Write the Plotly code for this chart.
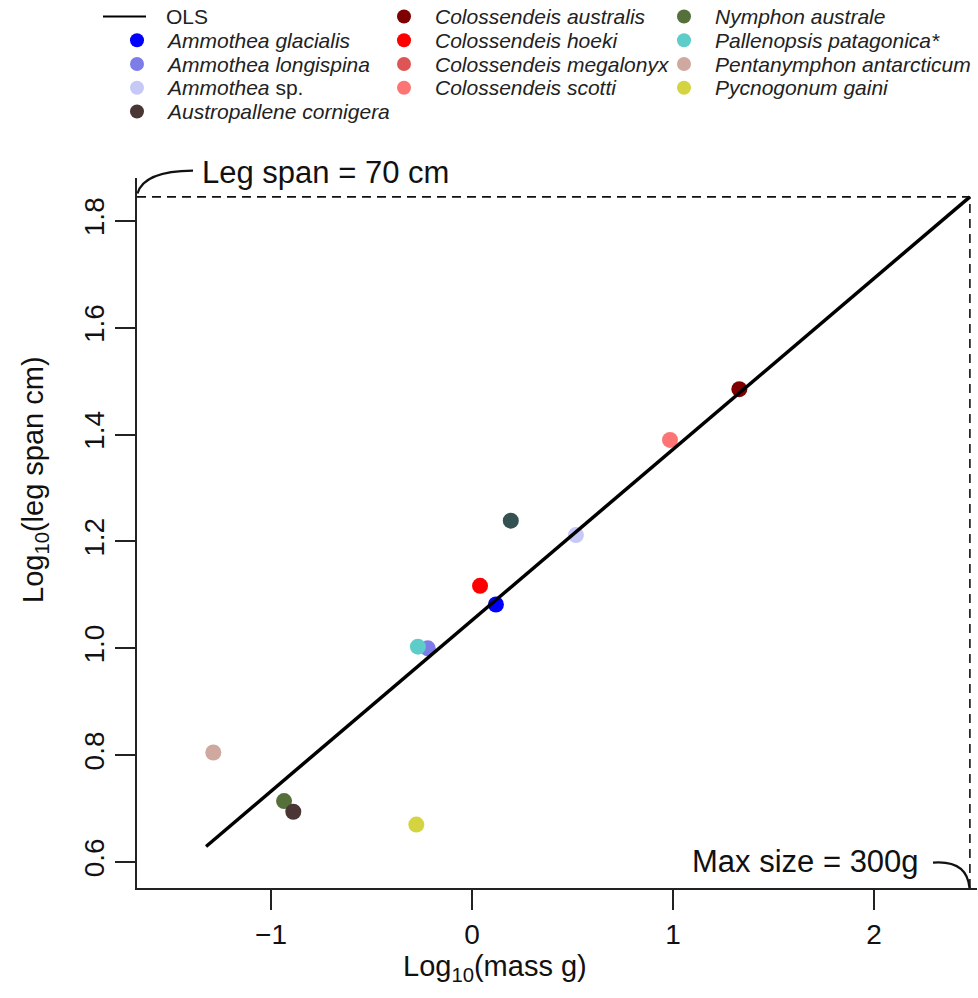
import math
import plotly.graph_objects as go

# ---------------- data ----------------
species = [
    "Ammothea glacialis", "Ammothea longispina", "Ammothea sp.", "Austropallene cornigera",
    "Colossendeis australis", "Colossendeis hoeki", "Colossendeis megalonyx", "Colossendeis scotti",
    "Nymphon australe", "Pallenopsis patagonica*", "Pentanymphon antarcticum", "Pycnogonum gaini",
]
legend_labels = [
    "<i>Ammothea glacialis</i>", "<i>Ammothea longispina</i>", "<i>Ammothea</i> sp.",
    "<i>Austropallene cornigera</i>", "<i>Colossendeis australis</i>", "<i>Colossendeis hoeki</i>",
    "<i>Colossendeis megalonyx</i>", "<i>Colossendeis scotti</i>", "<i>Nymphon australe</i>",
    "<i>Pallenopsis patagonica*</i>", "<i>Pentanymphon antarcticum</i>", "<i>Pycnogonum gaini</i>",
]
colors = [
    "#0000FF", "#7D7DE8", "#C6C8F6", "#4B3636",
    "#7F0000", "#FF0000", "#DD5555", "#FC7474",
    "#55703A", "#5ECDC9", "#CFA8A0", "#D4D340",
]
# log10(mass g), log10(leg span cm); None = no visible point
log_mass = [0.119, -0.220, 0.517, -0.889, 1.330, 0.040, None, 0.985, -0.935, -0.269, -1.287, -0.277]
log_span = [1.082, 1.000, 1.212, 0.694, 1.485, 1.117, None, 1.390, 0.714, 1.003, 0.805, 0.670]

# extra (unlabelled) point
extra_mass = [0.193]
extra_span = [1.239]
extra_color = "#345252"

# draw order of points (index into species)
draw_order = [10, 8, 3, 11, 1, 9, 5, 0, 2, 7, 4]

OLS_INTERCEPT = 1.0524
OLS_SLOPE = 0.320
OLS_X_START = -1.323

MAX_MASS_G = 300
MAX_LEGSPAN_CM = 70

x_ticks = [-1, 0, 1, 2]
y_ticks = [0.6, 0.8, 1.0, 1.2, 1.4, 1.6, 1.8]

# ---------------- layout constants ----------------
W, H = 978, 998
FONT = "Liberation Sans, Arial, sans-serif"
INK = "#111111"

# pixel geometry of main axes
PX_LEFT, PX_RIGHT = 137, 977
PX_TOP, PX_BOTTOM = 178, 888
X0_PX, X_PER_UNIT = 472, 201.0
Y1_PX, Y_PER_UNIT = 648.3, 534.2

x_range = [(PX_LEFT - X0_PX) / X_PER_UNIT, (PX_RIGHT - X0_PX) / X_PER_UNIT]
y_range = [1 - (PX_BOTTOM - Y1_PX) / Y_PER_UNIT, 1 + (Y1_PX - PX_TOP) / Y_PER_UNIT]

fig = go.Figure()

# points
for i in draw_order:
    fig.add_trace(go.Scatter(
        x=[log_mass[i]], y=[log_span[i]], mode="markers",
        marker=dict(size=16, color=colors[i], line=dict(width=0)),
        name=species[i], showlegend=False, xaxis="x", yaxis="y",
    ))
fig.add_trace(go.Scatter(
    x=extra_mass, y=extra_span, mode="markers",
    marker=dict(size=16, color=extra_color, line=dict(width=0)),
    showlegend=False, xaxis="x", yaxis="y",
))

# OLS line (on top)
x_end = math.log10(MAX_MASS_G)
ols_x = [OLS_X_START, x_end]
ols_y = [OLS_INTERCEPT + OLS_SLOPE * v for v in ols_x]
fig.add_trace(go.Scatter(
    x=ols_x, y=ols_y, mode="lines", line=dict(color="black", width=3.5),
    showlegend=False, xaxis="x", yaxis="y",
))

# dashed reference lines
ly = math.log10(MAX_LEGSPAN_CM)
fig.add_shape(type="line", xref="x", yref="y", x0=x_range[0], x1=x_end, y0=ly, y1=ly,
              line=dict(color=INK, width=1.6, dash="9px,6px"))
fig.add_shape(type="line", xref="x", yref="y", x0=x_end, x1=x_end, y0=y_range[0], y1=ly,
              line=dict(color=INK, width=1.6, dash="9px,6px"))

# ---------------- manual legend (overlay axes in pixel units) ----------------
rows = [16.5, 40.3, 64.0, 87.8, 111.5]
col_marker_x = [137, 404, 684]
col_text_x = [164, 433, 713]
# OLS sample
fig.add_trace(go.Scatter(x=[103, 146], y=[rows[0], rows[0]], mode="lines",
                         line=dict(color="black", width=2.2), showlegend=False,
                         xaxis="x2", yaxis="y2", hoverinfo="skip"))
fig.add_annotation(x=col_text_x[0], y=rows[0], xref="x2", yref="y2", text="OLS",
                   showarrow=False, xanchor="left", yanchor="middle",
                   font=dict(family=FONT, size=21, color="#222"))
slots = [(0, 1), (0, 2), (0, 3), (0, 4), (1, 0), (1, 1), (1, 2), (1, 3), (2, 0), (2, 1), (2, 2), (2, 3)]
for i, (c, r) in enumerate(slots):
    fig.add_trace(go.Scatter(x=[col_marker_x[c]], y=[rows[r]], mode="markers",
                             marker=dict(size=14, color=colors[i], line=dict(width=0)),
                             showlegend=False, xaxis="x2", yaxis="y2", hoverinfo="skip"))
    fig.add_annotation(x=col_text_x[c], y=rows[r], xref="x2", yref="y2", text=legend_labels[i],
                       showarrow=False, xanchor="left", yanchor="middle",
                       font=dict(family=FONT, size=21, color="#222"))

# ---------------- annotations ----------------
fig.add_annotation(x=200, y=172.5, xref="x2", yref="y2", text="Leg span = 70 cm",
                   showarrow=False, xanchor="left", yanchor="middle",
                   font=dict(family=FONT, size=31, color=INK))
fig.add_shape(type="path", xref="x2", yref="y2", path="M 137.5,193.5 Q 144,171 193,170.7",
              line=dict(color=INK, width=2.2))
fig.add_annotation(x=921, y=861, xref="x2", yref="y2", text="Max size = 300g",
                   showarrow=False, xanchor="right", yanchor="middle",
                   font=dict(family=FONT, size=31, color=INK))
fig.add_shape(type="path", xref="x2", yref="y2", path="M 933,862.7 Q 967,860 969.5,888",
              line=dict(color=INK, width=2.2))

# axis titles
fig.add_annotation(x=495, y=968, xref="x2", yref="y2", text="Log<sub>10</sub>(mass g)",
                   showarrow=False, xanchor="center", yanchor="middle",
                   font=dict(family=FONT, size=29, color=INK))
fig.add_annotation(x=35, y=480, xref="x2", yref="y2", text="Log<sub>10</sub>(leg span cm)",
                   showarrow=False, xanchor="center", yanchor="middle", textangle=-90,
                   font=dict(family=FONT, size=29, color=INK))

fig.update_layout(
    width=W, height=H, margin=dict(l=0, r=0, t=0, b=0),
    paper_bgcolor="white", plot_bgcolor="rgba(0,0,0,0)",
    showlegend=False,
    font=dict(family=FONT, color=INK),
    xaxis=dict(domain=[PX_LEFT / W, PX_RIGHT / W], range=x_range, anchor="y",
               tickvals=x_ticks, showgrid=False, zeroline=False, showline=True,
               linecolor="#222", linewidth=2, ticks="outside", ticklen=20, tickwidth=2,
               tickcolor="#222", tickfont=dict(family=FONT, size=28, color=INK),
               automargin=False),
    yaxis=dict(domain=[1 - PX_BOTTOM / H, 1 - PX_TOP / H], range=y_range, anchor="x",
               tickvals=y_ticks, tickformat=".1f", tickangle=-90, showgrid=False,
               zeroline=False, showline=True, linecolor="#222", linewidth=2,
               ticks="outside", ticklen=20, tickwidth=2, tickcolor="#222",
               tickfont=dict(family=FONT, size=28, color=INK), automargin=False),
    xaxis2=dict(domain=[0, 1], range=[0, W], anchor="y2", visible=False, fixedrange=True),
    yaxis2=dict(domain=[0, 1], range=[H, 0], anchor="x2", visible=False, fixedrange=True),
)

fig.write_html("out.html")
